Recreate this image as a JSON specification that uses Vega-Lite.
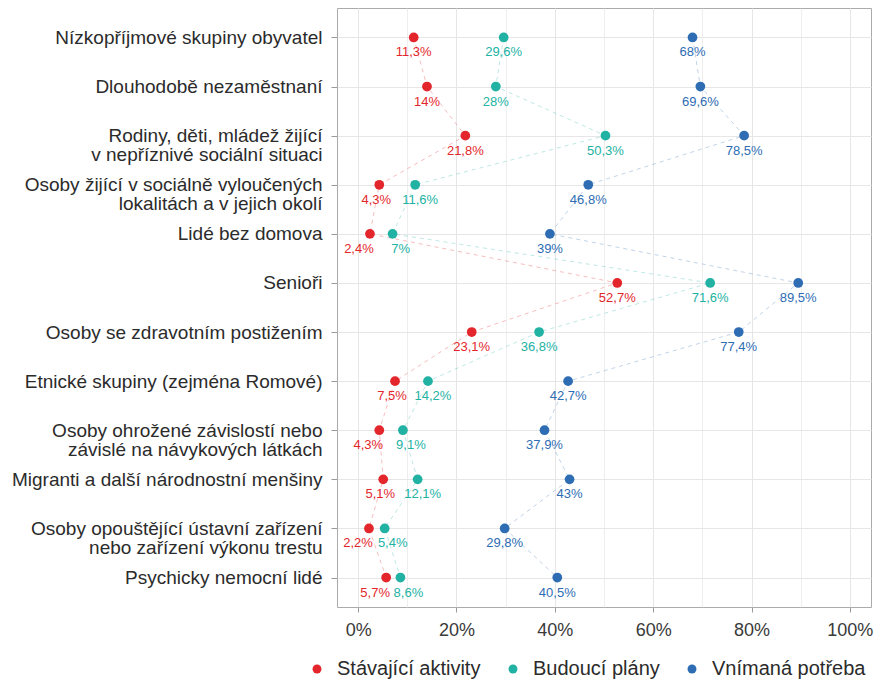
{
  "$schema": "https://vega.github.io/schema/vega-lite/v6.json",
  "width": 534,
  "height": 599,
  "autosize": "none",
  "padding": {"left": 337, "top": 8, "right": 9, "bottom": 74},
  "background": "white",
  "config": {
    "locale": {"number": {"decimal": ",", "thousands": " ", "grouping": [3], "currency": ["", " Kč"]}},
    "font": "Liberation Sans",
    "view": {"stroke": "#ababab", "strokeWidth": 1}
  },
  "data": {
    "values": [
      {"group": "Nízkopříjmové skupiny obyvatel", "series": "Stávající aktivity", "value": 0.113},
      {"group": "Dlouhodobě nezaměstnaní", "series": "Stávající aktivity", "value": 0.14},
      {"group": "Rodiny, děti, mládež žijící\nv nepříznivé sociální situaci", "series": "Stávající aktivity", "value": 0.218},
      {"group": "Osoby žijící v sociálně vyloučených\nlokalitách a v jejich okolí", "series": "Stávající aktivity", "value": 0.043},
      {"group": "Lidé bez domova", "series": "Stávající aktivity", "value": 0.024},
      {"group": "Senioři", "series": "Stávající aktivity", "value": 0.527},
      {"group": "Osoby se zdravotním postižením", "series": "Stávající aktivity", "value": 0.231},
      {"group": "Etnické skupiny (zejména Romové)", "series": "Stávající aktivity", "value": 0.075},
      {"group": "Osoby ohrožené závislostí nebo\nzávislé na návykových látkách", "series": "Stávající aktivity", "value": 0.043},
      {"group": "Migranti a další národnostní menšiny", "series": "Stávající aktivity", "value": 0.051},
      {"group": "Osoby opouštějící ústavní zařízení\nnebo zařízení výkonu trestu", "series": "Stávající aktivity", "value": 0.022},
      {"group": "Psychicky nemocní lidé", "series": "Stávající aktivity", "value": 0.057},
      {"group": "Nízkopříjmové skupiny obyvatel", "series": "Budoucí plány", "value": 0.296},
      {"group": "Dlouhodobě nezaměstnaní", "series": "Budoucí plány", "value": 0.28},
      {"group": "Rodiny, děti, mládež žijící\nv nepříznivé sociální situaci", "series": "Budoucí plány", "value": 0.503},
      {"group": "Osoby žijící v sociálně vyloučených\nlokalitách a v jejich okolí", "series": "Budoucí plány", "value": 0.116},
      {"group": "Lidé bez domova", "series": "Budoucí plány", "value": 0.07},
      {"group": "Senioři", "series": "Budoucí plány", "value": 0.716},
      {"group": "Osoby se zdravotním postižením", "series": "Budoucí plány", "value": 0.368},
      {"group": "Etnické skupiny (zejména Romové)", "series": "Budoucí plány", "value": 0.142},
      {"group": "Osoby ohrožené závislostí nebo\nzávislé na návykových látkách", "series": "Budoucí plány", "value": 0.091},
      {"group": "Migranti a další národnostní menšiny", "series": "Budoucí plány", "value": 0.121},
      {"group": "Osoby opouštějící ústavní zařízení\nnebo zařízení výkonu trestu", "series": "Budoucí plány", "value": 0.054},
      {"group": "Psychicky nemocní lidé", "series": "Budoucí plány", "value": 0.086},
      {"group": "Nízkopříjmové skupiny obyvatel", "series": "Vnímaná potřeba", "value": 0.68},
      {"group": "Dlouhodobě nezaměstnaní", "series": "Vnímaná potřeba", "value": 0.696},
      {"group": "Rodiny, děti, mládež žijící\nv nepříznivé sociální situaci", "series": "Vnímaná potřeba", "value": 0.785},
      {"group": "Osoby žijící v sociálně vyloučených\nlokalitách a v jejich okolí", "series": "Vnímaná potřeba", "value": 0.468},
      {"group": "Lidé bez domova", "series": "Vnímaná potřeba", "value": 0.39},
      {"group": "Senioři", "series": "Vnímaná potřeba", "value": 0.895},
      {"group": "Osoby se zdravotním postižením", "series": "Vnímaná potřeba", "value": 0.774},
      {"group": "Etnické skupiny (zejména Romové)", "series": "Vnímaná potřeba", "value": 0.427},
      {"group": "Osoby ohrožené závislostí nebo\nzávislé na návykových látkách", "series": "Vnímaná potřeba", "value": 0.379},
      {"group": "Migranti a další národnostní menšiny", "series": "Vnímaná potřeba", "value": 0.43},
      {"group": "Osoby opouštějící ústavní zařízení\nnebo zařízení výkonu trestu", "series": "Vnímaná potřeba", "value": 0.298},
      {"group": "Psychicky nemocní lidé", "series": "Vnímaná potřeba", "value": 0.405}
    ]
  },
  "encoding": {
    "y": {
      "field": "group",
      "type": "nominal",
      "sort": null,
      "scale": {"type": "point", "padding": 0.6},
      "axis": {
        "title": null,
        "labelExpr": "split(datum.label, '\\n')",
        "labelFontSize": 19,
        "labelColor": "#2b2b2b",
        "labelLineHeight": 19,
        "labelPadding": 9,
        "labelLimit": 400,
        "tickColor": "#9a9a9a",
        "tickSize": 6,
        "domain": false,
        "grid": true,
        "gridColor": "#e6e6e6",
        "gridWidth": 1
      }
    },
    "x": {
      "field": "value",
      "type": "quantitative",
      "scale": {"domain": [-0.043, 1.043], "nice": false, "zero": false},
      "axis": {
        "title": null,
        "values": [0, 0.1, 0.2, 0.3, 0.4, 0.5, 0.6, 0.7, 0.8, 0.9, 1],
        "format": "~%",
        "labelExpr": "round(datum.value * 100) % 20 === 0 ? datum.label : ''",
        "tickOpacity": {"condition": {"test": "round(datum.value * 100) % 20 === 0", "value": 1}, "value": 0},
        "gridWidth": {"condition": {"test": "round(datum.value * 100) % 20 === 0", "value": 1}, "value": 0.7},
        "gridColor": "#e6e6e6",
        "labelFontSize": 18,
        "labelColor": "#3a3a3a",
        "labelPadding": 9,
        "labelFlush": false,
        "labelOverlap": false,
        "tickColor": "#9a9a9a",
        "tickSize": 5,
        "domain": false
      }
    },
    "color": {
      "field": "series",
      "type": "nominal",
      "scale": {"domain": ["Stávající aktivity", "Budoucí plány", "Vnímaná potřeba"], "range": ["#e3262b", "#22b2a4", "#2e6db3"]},
      "legend": {
        "title": null,
        "orient": "none",
        "direction": "horizontal",
        "legendX": -30,
        "legendY": 651,
        "symbolType": "circle",
        "symbolSize": 80,
        "symbolOpacity": 1,
        "symbolStrokeWidth": 0,
        "labelFontSize": 20,
        "labelColor": "#2b2b2b",
        "labelOffset": 10,
        "columnPadding": 22,
        "labelLimit": 300,
        "encode": {
          "symbols": {"update": {"fill": {"scale": "color", "field": "value"}, "strokeWidth": {"value": 0}, "fillOpacity": {"value": 1}}}
        }
      }
    }
  },
  "layer": [
    {
      "mark": {"type": "line", "strokeDash": [4, 4], "strokeWidth": 1, "opacity": 0.3},
      "encoding": {"order": {"value": null}}
    },
    {
      "mark": {"type": "circle", "size": 95, "opacity": 1}
    },
    {
      "transform": [{"filter": {"or": [{"field": "series", "equal": "Vnímaná potřeba"}, {"not": {"field": "group", "oneOf": ["Lidé bez domova", "Osoby ohrožené závislostí nebo\nzávislé na návykových látkách", "Osoby opouštějící ústavní zařízení\nnebo zařízení výkonu trestu", "Psychicky nemocní lidé", "Osoby žijící v sociálně vyloučených\nlokalitách a v jejich okolí", "Etnické skupiny (zejména Romové)", "Migranti a další národnostní menšiny"]}}]}}],
      "mark": {"type": "text", "dy": 15, "fontSize": 13, "baseline": "middle"},
      "encoding": {"text": {"field": "value", "type": "quantitative", "format": "~%"}}
    },
    {
      "transform": [{"filter": {"and": [{"field": "series", "equal": "Stávající aktivity"}, {"field": "group", "oneOf": ["Lidé bez domova", "Osoby ohrožené závislostí nebo\nzávislé na návykových látkách", "Osoby opouštějící ústavní zařízení\nnebo zařízení výkonu trestu", "Psychicky nemocní lidé"]}]}}],
      "mark": {"type": "text", "dy": 15, "dx": -11, "fontSize": 13, "baseline": "middle"},
      "encoding": {"text": {"field": "value", "type": "quantitative", "format": "~%"}}
    },
    {
      "transform": [{"filter": {"and": [{"field": "series", "equal": "Budoucí plány"}, {"field": "group", "oneOf": ["Lidé bez domova", "Osoby ohrožené závislostí nebo\nzávislé na návykových látkách", "Osoby opouštějící ústavní zařízení\nnebo zařízení výkonu trestu", "Psychicky nemocní lidé"]}]}}],
      "mark": {"type": "text", "dy": 15, "dx": 8, "fontSize": 13, "baseline": "middle"},
      "encoding": {"text": {"field": "value", "type": "quantitative", "format": "~%"}}
    },
    {
      "transform": [{"filter": {"and": [{"field": "series", "equal": "Stávající aktivity"}, {"field": "group", "oneOf": ["Osoby žijící v sociálně vyloučených\nlokalitách a v jejich okolí", "Etnické skupiny (zejména Romové)", "Migranti a další národnostní menšiny"]}]}}],
      "mark": {"type": "text", "dy": 15, "dx": -3, "fontSize": 13, "baseline": "middle"},
      "encoding": {"text": {"field": "value", "type": "quantitative", "format": "~%"}}
    },
    {
      "transform": [{"filter": {"and": [{"field": "series", "equal": "Budoucí plány"}, {"field": "group", "oneOf": ["Osoby žijící v sociálně vyloučených\nlokalitách a v jejich okolí", "Etnické skupiny (zejména Romové)", "Migranti a další národnostní menšiny"]}]}}],
      "mark": {"type": "text", "dy": 15, "dx": 5, "fontSize": 13, "baseline": "middle"},
      "encoding": {"text": {"field": "value", "type": "quantitative", "format": "~%"}}
    }
  ]
}
